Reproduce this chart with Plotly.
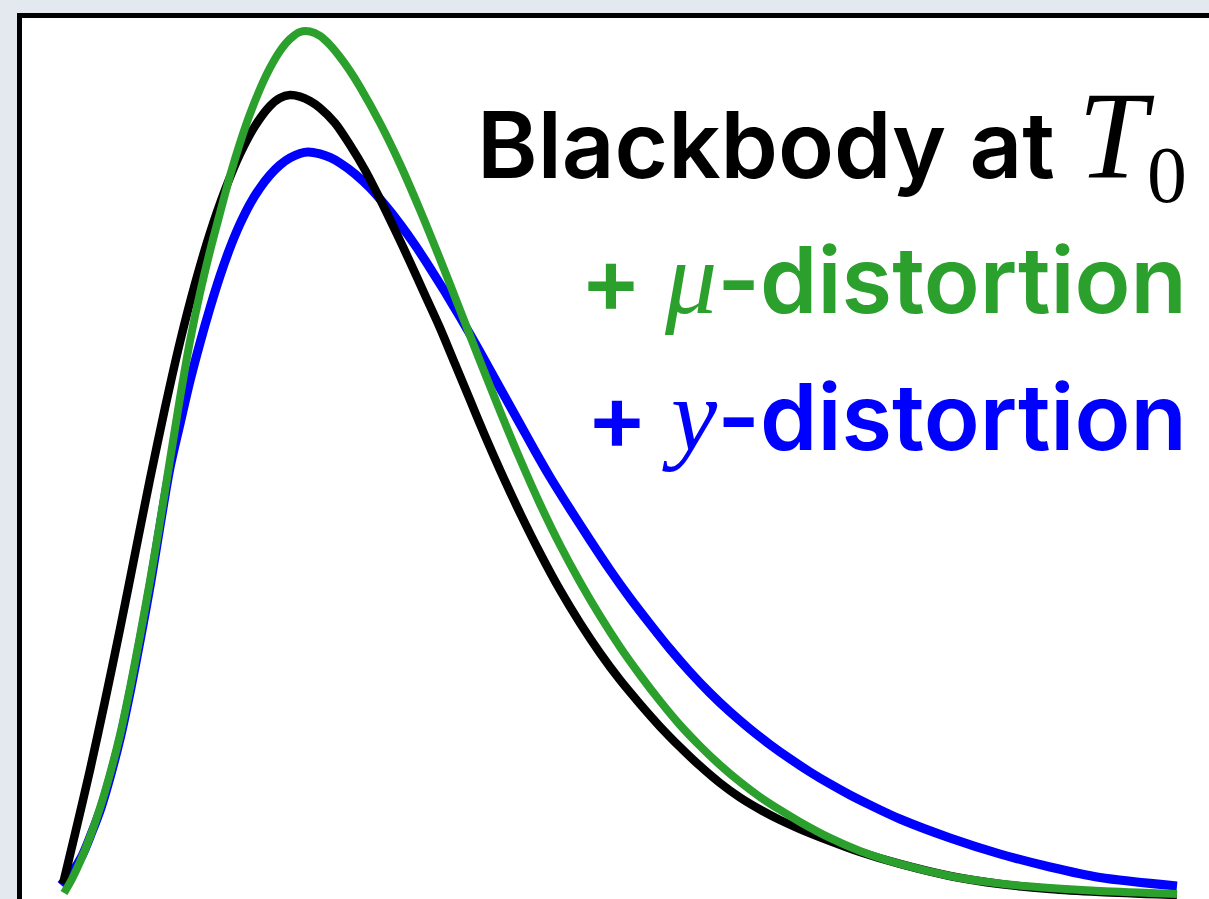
import plotly.graph_objects as go

# Dimensionless frequency (x) and normalised intensity for each spectrum
bb_x = [0.0125, 0.1625, 0.35, 0.5375, 0.725, 0.9125, 1.1, 1.2875, 1.475, 1.6625, 1.85, 2.0375,
        2.225, 2.4125, 2.6, 2.725, 2.85, 2.975, 3.1, 3.225, 3.4125, 3.6, 3.7875, 3.975, 4.1625,
        4.35, 4.5375, 4.725, 4.9125, 5.1, 5.2875, 5.475, 5.725, 5.975, 6.225, 6.475, 6.725,
        6.975, 7.225, 7.475, 7.725, 7.975, 8.225, 8.475, 8.725, 8.975, 9.225, 9.6, 9.975,
        10.475, 11.1, 11.725, 12.35, 12.975, 13.9375]
bb_y = [0.0138, 0.0763, 0.1563, 0.2425, 0.3325, 0.4263, 0.52, 0.6088, 0.6913, 0.7638, 0.8275,
        0.8813, 0.9263, 0.9613, 0.9863, 0.9963, 1.0, 0.998, 0.9925, 0.9838, 0.965, 0.9375,
        0.9063, 0.87, 0.8313, 0.7913, 0.75, 0.7088, 0.6638, 0.6188, 0.5738, 0.5313, 0.4775,
        0.4275, 0.3813, 0.34, 0.3025, 0.2688, 0.2388, 0.2106, 0.185, 0.1613, 0.1400, 0.1219,
        0.1069, 0.0938, 0.0825, 0.0675, 0.0538, 0.0388, 0.0238, 0.0138, 0.0075, 0.0038, 0.0]

mu_x = [0.025, 0.125, 0.225, 0.35, 0.475, 0.6, 0.725, 0.85, 0.975, 1.1, 1.225, 1.35, 1.475,
        1.6, 1.725, 1.85, 1.975, 2.1, 2.225, 2.35, 2.475, 2.6, 2.725, 2.85, 2.975, 3.1, 3.225,
        3.35, 3.475, 3.6, 3.725, 3.975, 4.225, 4.475, 4.725, 4.975, 5.225, 5.475, 5.725,
        5.975, 6.225, 6.475, 6.725, 6.975, 7.225, 7.475, 7.725, 7.975, 8.225, 8.475, 8.725,
        8.975, 9.225, 9.6, 9.975, 10.475, 11.1, 11.725, 12.35, 12.975, 13.9375]
mu_y = [0.0025, 0.02, 0.0413, 0.0725, 0.1088, 0.1513, 0.2, 0.2588, 0.3238, 0.3925, 0.4663,
        0.5438, 0.6213, 0.6925, 0.7525, 0.805, 0.8525, 0.8988, 0.94, 0.9763, 1.0075, 1.0338,
        1.055, 1.07, 1.0788, 1.0794, 1.0738, 1.0625, 1.0475, 1.03, 1.01, 0.965, 0.9138,
        0.8563, 0.795, 0.7313, 0.6675, 0.605, 0.545, 0.4888, 0.4375, 0.3913, 0.3488, 0.31,
        0.275, 0.2425, 0.2125, 0.1863, 0.1625, 0.1413, 0.1225, 0.1063, 0.0913, 0.0713,
        0.055, 0.0388, 0.0238, 0.0144, 0.0088, 0.005, 0.0013]

y_x = [-0.0125, 0.125, 0.25, 0.375, 0.4875, 0.6125, 0.7375, 0.8625, 0.9875, 1.1125, 1.2375,
       1.35, 1.475, 1.6, 1.725, 1.85, 1.975, 2.1, 2.225, 2.35, 2.475, 2.6, 2.725, 2.85, 2.975,
       3.075, 3.225, 3.35, 3.475, 3.6625, 3.85, 4.0375, 4.225, 4.4125, 4.6, 4.7875, 4.975,
       5.1625, 5.35, 5.5375, 5.725, 5.9125, 6.1, 6.35, 6.6, 6.85, 7.1, 7.35, 7.6, 7.85, 8.1,
       8.35, 8.6, 8.85, 9.1, 9.35, 9.6, 9.85, 10.1, 10.475, 11.1, 11.725, 12.35, 12.975,
       13.9375]
y_y = [0.0125, 0.0288, 0.0488, 0.0788, 0.1088, 0.1513, 0.2, 0.2588, 0.3238, 0.3925, 0.4688,
       0.5338, 0.5888, 0.6425, 0.69, 0.7338, 0.7738, 0.8088, 0.8388, 0.8638, 0.8838, 0.9,
       0.9125, 0.9213, 0.9269, 0.9288, 0.9263, 0.9219, 0.915, 0.9013, 0.8838, 0.8625, 0.8388,
       0.8125, 0.7838, 0.7538, 0.7225, 0.69, 0.6563, 0.6225, 0.5888, 0.555, 0.5225, 0.4825,
       0.4438, 0.4063, 0.3713, 0.3388, 0.3075, 0.2788, 0.2525, 0.2288, 0.2075, 0.1881,
       0.1703, 0.1538, 0.1388, 0.1250, 0.1125, 0.0950, 0.0713, 0.0513, 0.0350, 0.0219, 0.0113]

GREEN = "#2ca02c"
BLUE = "#0000ff"
SERIF = "'Liberation Serif', 'DejaVu Serif', serif"

fig = go.Figure()
fig.add_trace(go.Scatter(x=y_x, y=y_y, mode="lines",
                         line=dict(color=BLUE, width=9, shape="spline", smoothing=0.8),
                         hoverinfo="skip"))
fig.add_trace(go.Scatter(x=bb_x, y=bb_y, mode="lines",
                         line=dict(color="black", width=8.5, shape="spline", smoothing=0.8),
                         hoverinfo="skip"))
fig.add_trace(go.Scatter(x=mu_x, y=mu_y, mode="lines",
                         line=dict(color=GREEN, width=8, shape="spline", smoothing=0.8),
                         hoverinfo="skip"))

label_font = dict(family="Inter, 'Open Sans', sans-serif", size=92, weight=600)


def math(sym, size=104):
    return ('<span style="font-family:%s;font-style:italic;font-weight:400;font-size:%dpx">%s</span>'
            % (SERIF, size, sym))


labels = [
    ("Blackbody at " + math("T", 124)
     + '<span style="font-family:%s;font-weight:400;font-size:114px"><sub>0</sub></span>' % SERIF,
     "black", 0.857),
    ("+ " + math("\u03bc") + "-distortion", GREEN, 0.706),
    ("+ " + math("y") + "-distortion", BLUE, 0.550),
]
for text, color, ypos in labels:
    fig.add_annotation(text=text, x=0.983, y=ypos, xref="paper", yref="paper",
                       xanchor="right", yanchor="middle", showarrow=False,
                       font=dict(label_font, color=color))

fig.update_layout(
    width=1209, height=899,
    margin=dict(l=22, r=0, t=18, b=0),
    paper_bgcolor="#e4e8ef",
    plot_bgcolor="white",
    showlegend=False,
)
fig.update_xaxes(range=[-0.5, 14.3375], side="top", showline=True, linewidth=5, linecolor="black",
                 showgrid=False, zeroline=False, showticklabels=False, ticks="")
fig.update_yaxes(range=[-0.005, 1.09625], showline=True, linewidth=5, linecolor="black",
                 showgrid=False, zeroline=False, showticklabels=False, ticks="")

fig.write_html("out.html")
